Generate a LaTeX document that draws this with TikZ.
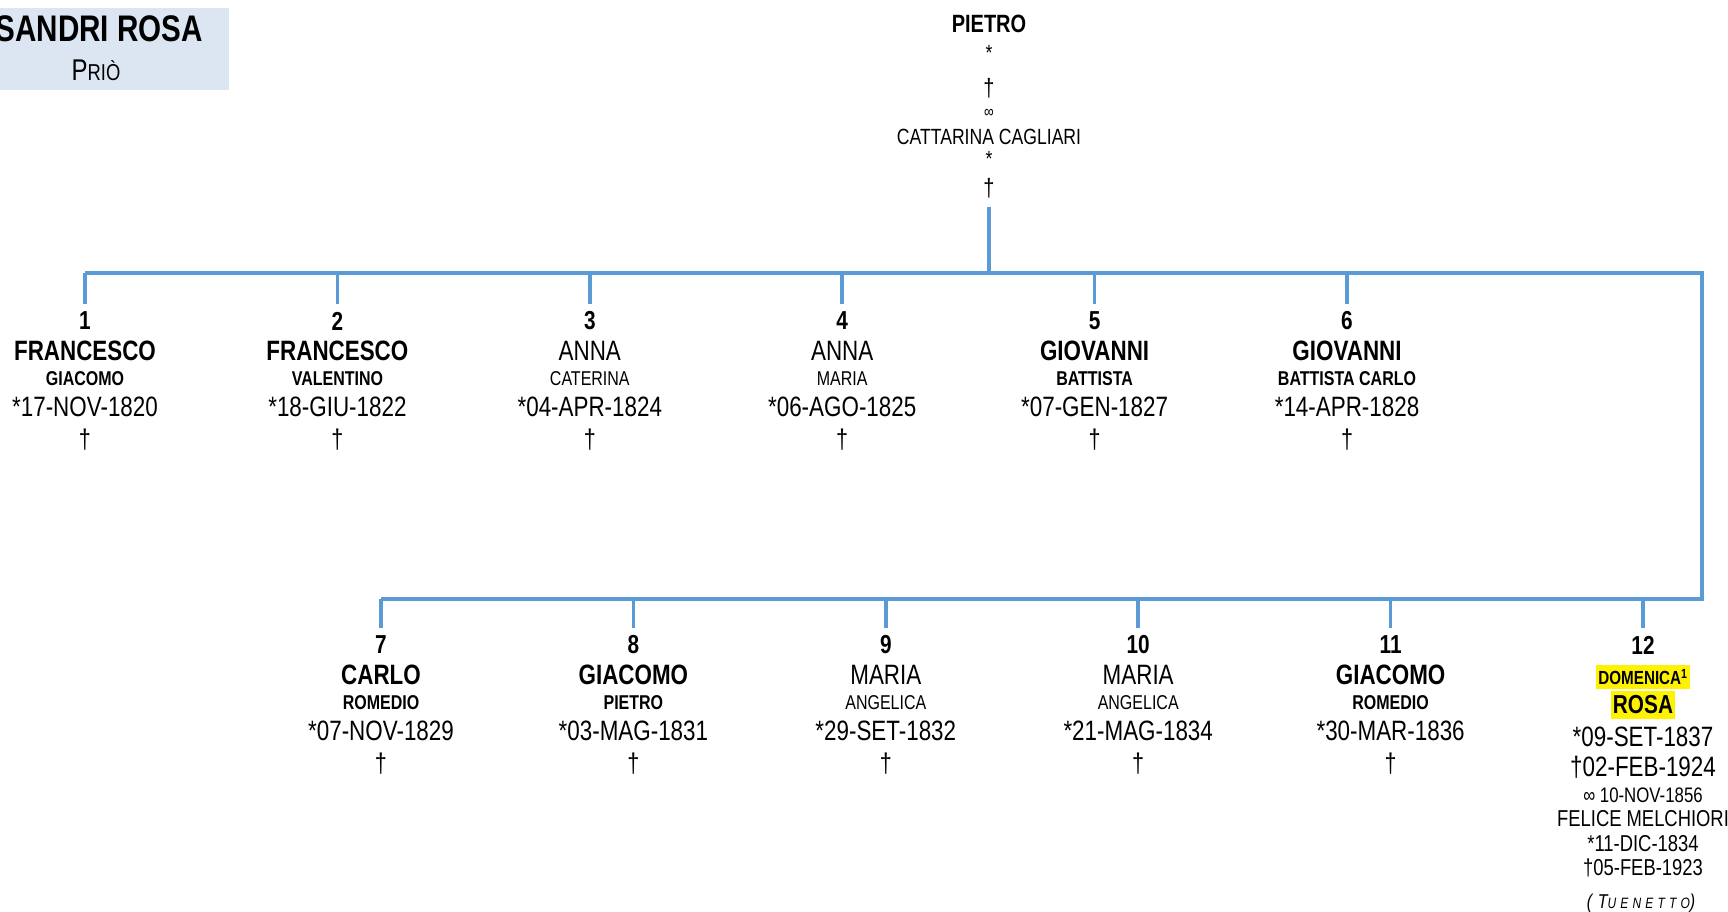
\documentclass[tikz,border=0pt]{standalone}
\usepackage{fontspec}
\setmainfont{Liberation Sans}[FakeStretch=0.8]
\definecolor{tree}{HTML}{5B9BD5}
\definecolor{titlebg}{HTML}{DCE6F2}
\newcommand{\fs}[1]{\fontsize{#1}{#1}\selectfont}
\begin{document}
\begin{tikzpicture}[x=1pt,y=-1pt,inner sep=0pt,line join=miter]
	\tikzset{link/.style={draw=tree,line width=3.5pt},
		num/.style={font=\fs{26}\bfseries},
		mark12/.style={fill=yellow,inner xsep=2pt,inner ysep=4pt}}
	\useasboundingbox(0,0)rectangle(1728,912);
	% title
	\fill[titlebg](0,8)rectangle(229,90);
	\node[font=\fs{37}\bfseries,anchor=east](title) at (203,29){SANDRI ROSA};
	\node[font=\fs{30},anchor=base](place) at (96,81){P{\fs{23}RIÒ}};
	% parents
	\node[font=\fs{25}\bfseries](p1) at (989,24){PIETRO};
	\node[font=\fs{22}](p2) at (989,53){*};
	\node[font=\fs{25}](p3) at (989,88){†};
	\node[font=\fs{17}](p4) at (989,113){∞};
	\node[font=\fs{22}](p5) at (989,137){CATTARINA CAGLIARI};
	\node[font=\fs{22}](p6) at (989,159){*};
	\node[font=\fs{25}](p7) at (989,188){†};
	\coordinate(P) at (989,273);
	\draw[link,shorten <=9pt](p7.south)--(P);
	\path(85,273)coordinate(k1)(1702,273)coordinate(R)(1702,599)coordinate(S)(381,599)coordinate(k7);
	\draw[link](k1)--(R)--(S)--(k7);
	% children
	\foreach \i/\w/\na/\nb/\dt in{1/\bfseries/FRANCESCO/GIACOMO/17-NOV-1820,2/\bfseries/FRANCESCO/VALENTINO/18-GIU-1822,
		3/\mdseries/ANNA/CATERINA/04-APR-1824,4/\mdseries/ANNA/MARIA/06-AGO-1825,5/\bfseries/GIOVANNI/BATTISTA/07-GEN-1827,
		6/\bfseries/GIOVANNI/BATTISTA CARLO/14-APR-1828,7/\bfseries/CARLO/ROMEDIO/07-NOV-1829,8/\bfseries/GIACOMO/PIETRO/03-MAG-1831,
		9/\mdseries/MARIA/ANGELICA/29-SET-1832,10/\mdseries/MARIA/ANGELICA/21-MAG-1834,11/\bfseries/GIACOMO/ROMEDIO/30-MAR-1836}{
		\pgfmathsetmacro{\cx}{\i<7 ? 85+252.4*(\i-1) : 381+252.4*(\i-7)}
		\pgfmathsetmacro{\ky}{\i<7 ? 273 : 599}
		\pgfmathsetmacro{\by}{\i<7 ? 275 : 599}
		\coordinate(k\i) at (\cx,\ky);
		\node[num](c\i) at (\cx,\by+46){\i};
		\draw[link,shorten >=8pt](k\i)--(c\i.north);
		\node[font=\fs{28}\w](n\i) at (\cx,\by+76){\na};
		\node[font=\fs{20}\w](m\i) at (\cx,\by+104){\nb};
		\node[font=\fs{28}](d\i) at (\cx,\by+132){*\dt};
		\node[font=\fs{27}](t\i) at (\cx,\by+165){†};
	}
	% child 12
	\coordinate(k12) at (1643,599);
	\node[num](c12) at (1643,645){12};
	\draw[link,shorten >=8pt](k12)--(c12.north);
	\node[mark12,font=\fs{19}\bfseries](n12) at (1643,677){DOMENICA\textsuperscript{1}};
	\node[mark12,font=\fs{26}\bfseries,inner ysep=4.5pt](m12) at (1643,705){ROSA};
	\node[font=\fs{28}](d12) at (1643,737){*09-SET-1837};
	\node[font=\fs{28}](t12) at (1643,767){†02-FEB-1924};
	\node[font=\fs{21}](w12) at (1643,795){∞ 10-NOV-1856};
	\node[font=\fs{23}](s12) at (1643,819){FELICE MELCHIORI};
	\node[font=\fs{23}](sb12) at (1643,844){*11-DIC-1834};
	\node[font=\fs{23}](sd12) at (1643,868){†05-FEB-1923};
	\node[font=\fs{20}\itshape\addfontfeature{LetterSpace=28}](tu) at (1641,903){(T{\fs{15}UENETTO})};
\end{tikzpicture}
\end{document}
